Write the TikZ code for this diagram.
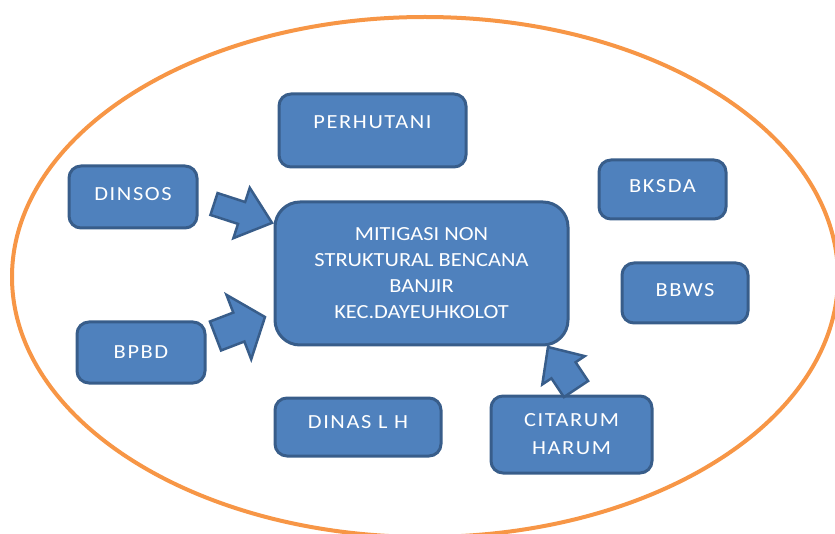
\documentclass[tikz,border=0pt]{standalone}
\usepackage{fontspec}
\setmainfont{Carlito}[FakeStretch=1.12]
\newfontfamily\spacedfont{Carlito}[FakeStretch=1.12, LetterSpace=8]
\definecolor{boxfill}{HTML}{4F81BD}
\definecolor{boxline}{HTML}{385D8A}
\definecolor{ringline}{HTML}{F79646}
\tikzset{
  box/.style={draw=boxline, fill=boxfill, line width=3pt, rounded corners=12pt,
    text=white, font=\spacedfont\fontsize{20pt}{28pt}\selectfont, align=center, inner sep=0pt},
  centerbox/.style={box, rounded corners=25pt, font=\fontsize{20pt}{26pt}\selectfont},
  blockarrowstyle/.style={draw=boxline, fill=boxfill, line width=2.5pt, line join=miter},
  ring/.style={draw=ringline, line width=4pt}
}
% tail x, tail y, canvas angle, total length, head length, shaft width, head width
\newcommand\blkarrow[7]{%
  \draw[blockarrowstyle, shift={(#1,#2)}, rotate=#3]
    (0,-#6/2) -- (#4-#5,-#6/2) -- (#4-#5,-#7/2) -- (#4,0) -- (#4-#5,#7/2)
    -- (#4-#5,#6/2) -- (0,#6/2) -- cycle;}
\begin{document}
\begin{tikzpicture}[x=1pt,y=-1pt]
\useasboundingbox (0,0) rectangle (835,534);
\begin{scope}
  \clip (0,0) rectangle (835,534);
  \draw[ring] (425,277) ellipse [x radius=413, y radius=260];
\end{scope}
\node[box, minimum width=187pt, minimum height=73pt, text depth=16pt] (perhutani) at (372.5,130.5) {PERHUTANI};
\node[box, minimum width=128pt, minimum height=62pt, text depth=6pt] (dinsos) at (133,197) {DINSOS};
\node[box, minimum width=128pt, minimum height=61pt] (bpbd) at (141,352.5) {BPBD};
\node[centerbox, minimum width=293pt, minimum height=143pt] (center) at (421.5,273.5)
  {MITIGASI NON\\STRUKTURAL BENCANA\\BANJIR\\KEC.DAYEUHKOLOT};
\node[box, minimum width=127pt, minimum height=59pt, text depth=6pt] (bksda) at (662.5,189.5) {BKSDA};
\node[box, minimum width=126pt, minimum height=60pt, text depth=6pt] (bbws) at (685,293) {BBWS};
\node[box, minimum width=166pt, minimum height=58pt, text depth=10pt] (dinas) at (358,427) {DINAS L H};
\node[box, minimum width=161pt, minimum height=77pt] (citarum) at (571.5,434.5) {CITARUM\\HARUM};
\blkarrow{214}{204}{-18}{61}{32}{23}{53}
\blkarrow{215.5}{336}{21}{53}{28}{31}{69}
\blkarrow{576}{389}{123.7}{50.5}{28}{29}{51}
\end{tikzpicture}
\end{document}
